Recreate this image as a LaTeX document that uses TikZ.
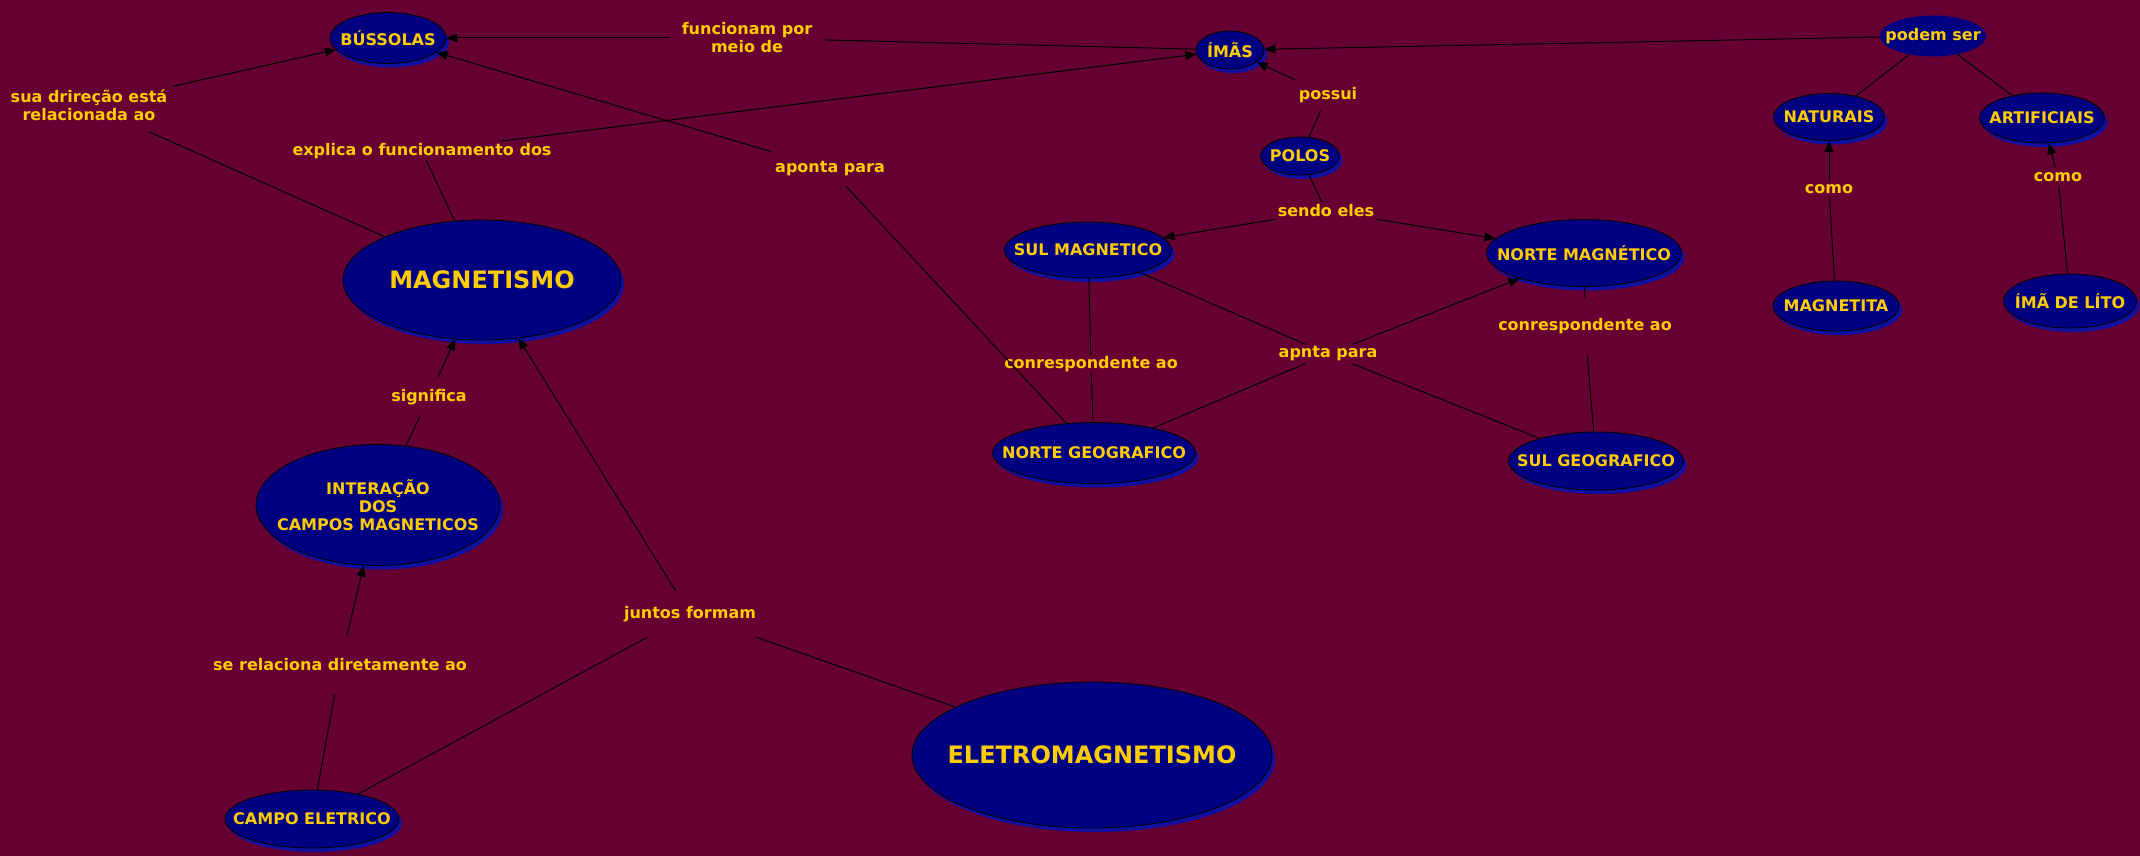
\documentclass[tikz,border=0pt]{standalone}
\usepackage{fontspec}
\setmainfont{DejaVu Sans}
\usetikzlibrary{shapes.geometric,arrows.meta,shadows}
\definecolor{bgc}{RGB}{102,0,51}
\definecolor{navyc}{RGB}{0,0,128}
\definecolor{shadowc}{RGB}{16,16,160}
\definecolor{goldc}{RGB}{255,204,0}
\newcommand\cmfont{\fontsize{16}{18}\selectfont\bfseries}
\newcommand\cmbigfont{\fontsize{24}{28}\selectfont\bfseries}
\begin{document}
\begin{tikzpicture}[x=1pt,y=-1pt,
  cnode/.style={ellipse, draw=black, line width=0.8pt, fill=navyc, inner sep=0pt,
    general shadow={fill=shadowc, shadow xshift=3pt, shadow yshift=-4pt}},
  ctext/.style={text=goldc, font=\cmfont, align=center, inner sep=0pt},
  cbig/.style={text=goldc, font=\cmbigfont, align=center, inner sep=0pt},
  lbl/.style={text=goldc, font=\cmfont, align=center, inner xsep=4pt, inner ysep=4pt},
  conn/.style={draw=black, line width=1pt},
  arr/.style={-{Triangle[length=11pt,width=9pt]}},
]
\fill[bgc] (0,0) rectangle (2140,856);
\useasboundingbox (0,0) rectangle (2140,856);

% concepts
\node[cnode, minimum width=116pt, minimum height=51pt, label={[ctext]center:BÚSSOLAS}] (bus) at (388,38) {};
\node[cnode, minimum width=68pt, minimum height=38pt, label={[ctext]center:ÍMÃS}] (ima) at (1230,50) {};
\node[ellipse, fill=navyc, inner sep=0pt, minimum width=106pt, minimum height=41pt, label={[ctext]center:podem ser}] (podem) at (1933,36) {};
\node[cnode, minimum width=111pt, minimum height=47pt, label={[ctext]center:NATURAIS}] (nat) at (1829,117) {};
\node[cnode, minimum width=125pt, minimum height=50pt, label={[ctext]center:ARTIFICIAIS}] (art) at (2042,118) {};
\node[cnode, minimum width=126pt, minimum height=50pt, label={[ctext]center:MAGNETITA}] (magt) at (1836,306) {};
\node[cnode, minimum width=133pt, minimum height=54pt, label={[ctext]center:ÍMÃ DE LÍTO}] (lito) at (2070,301) {};
\node[cnode, minimum width=79pt, minimum height=38pt, label={[ctext]center:POLOS}] (polos) at (1300,156) {};
\node[cnode, minimum width=167pt, minimum height=56pt, label={[ctext]center:SUL MAGNETICO}] (sulm) at (1088,250) {};
\node[cnode, minimum width=195pt, minimum height=67pt, label={[ctext]center:NORTE MAGNÉTICO}] (nortem) at (1584,253) {};
\node[cnode, minimum width=203pt, minimum height=61pt, label={[ctext]center:NORTE GEOGRAFICO}] (norteg) at (1094,453) {};
\node[cnode, minimum width=175pt, minimum height=58pt, label={[ctext]center:SUL GEOGRAFICO}] (sulg) at (1596,461) {};
\node[cnode, minimum width=278pt, minimum height=120pt, label={[cbig]center:MAGNETISMO}] (mag) at (482,280) {};
\node[cnode, minimum width=244pt, minimum height=121pt, label={[ctext]center:{INTERAÇÃO\\DOS\\CAMPOS MAGNETICOS}}] (inter) at (378,505) {};
\node[cnode, minimum width=174pt, minimum height=58pt, label={[ctext]center:CAMPO ELETRICO}] (campo) at (312,819) {};
\node[cnode, minimum width=360pt, minimum height=146pt, label={[cbig]center:ELETROMAGNETISMO}] (eletro) at (1092,755) {};

% linking phrases
\node[lbl, inner xsep=12pt] (lfunc) at (747,38) {funcionam por\\meio de};
\node[lbl, inner xsep=6pt, inner ysep=11pt] (lsua) at (89,105) {sua drireção está\\relacionada ao};
\node[lbl, inner ysep=2pt] (lexp) at (422,151) {explica o funcionamento dos};
\node[lbl, inner ysep=10pt] (lapo) at (830,169) {aponta para};
\node[lbl, inner ysep=8pt] (lpos) at (1328,95) {possui};
\node[lbl, inner xsep=2pt, inner ysep=3pt] (lsendo) at (1326,211) {sendo eles};
\node[lbl, inner ysep=1pt] (lcor1) at (1091,364) {conrespondente ao};
\node[lbl, inner ysep=2pt] (lapn) at (1328,354) {apnta para};
\node[lbl, inner ysep=21pt] (lcor2) at (1585,326) {conrespondente ao};
\node[lbl, inner ysep=3pt] (lcomo1) at (1829,189) {como};
\node[lbl, inner ysep=5pt] (lcomo2) at (2058,177) {como};
\node[lbl, inner ysep=12pt] (lsig) at (429,397) {significa};
\node[lbl, inner ysep=15pt] (ljun) at (690,614) {juntos formam};
\node[lbl, inner ysep=23pt] (lserel) at (340,665) {se relaciona diretamente ao};

% connectors
\draw[conn] (ima) -- (lfunc);
\draw[conn, arr] (lfunc) -- (bus);
\draw[conn] (mag) -- (lsua);
\draw[conn, arr] (lsua) -- (bus);
\draw[conn] (mag) -- (lexp);
\draw[conn, arr] (lexp) -- (ima);
\draw[conn] (norteg) -- (lapo);
\draw[conn, arr] (lapo) -- (bus);
\draw[conn, arr] (podem) -- (ima);
\draw[conn] (podem) -- (nat);
\draw[conn] (podem) -- (art);
\draw[conn] (magt) -- (lcomo1);
\draw[conn, arr] (lcomo1) -- (nat);
\draw[conn] (lito) -- (lcomo2);
\draw[conn, arr] (lcomo2) -- (art);
\draw[conn] (polos) -- (lpos);
\draw[conn, arr] (lpos) -- (ima);
\draw[conn] (polos) -- (lsendo);
\draw[conn, arr] (lsendo) -- (sulm);
\draw[conn, arr] (lsendo) -- (nortem);
\draw[conn] (sulm) -- (lcor1);
\draw[conn] (lcor1) -- (norteg);
\draw[conn] (nortem) -- (lcor2);
\draw[conn] (lcor2) -- (sulg);
\draw[conn] (norteg) -- (lapn);
\draw[conn, arr] (lapn) -- (nortem);
\draw[conn] (sulm) -- (lapn);
\draw[conn] (lapn) -- (sulg);
\draw[conn] (inter) -- (lsig);
\draw[conn, arr] (lsig) -- (mag);
\draw[conn] (campo) -- (lserel);
\draw[conn, arr] (lserel) -- (inter);
\draw[conn] (campo) -- (ljun);
\draw[conn] (eletro) -- (ljun);
\draw[conn, arr] (ljun) -- (mag);
\end{tikzpicture}
\end{document}
